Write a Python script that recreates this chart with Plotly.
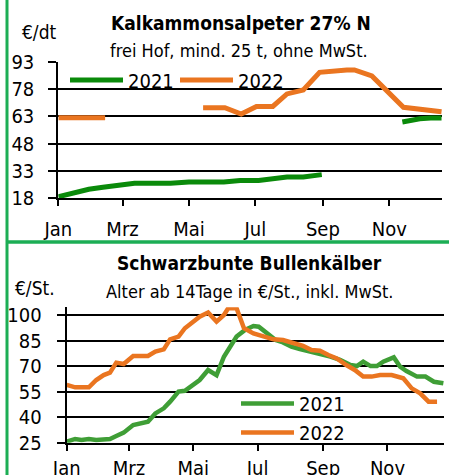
import plotly.graph_objects as go
from datetime import date, timedelta

# ---------------- data ----------------
# Top chart: Kalkammonsalpeter 27% N (€/dt), day-of-year offsets
kas_2021_a_day = [0, 12, 28, 41, 57, 70, 103, 120, 152, 167, 184, 210, 225, 242]
kas_2021_a_val = [18.7, 20.6, 22.8, 23.9, 25.0, 26.1, 26.1, 26.8, 26.8, 27.7, 27.7, 29.6, 29.6, 30.9]
kas_2021_b_day = [316, 332, 342, 352]
kas_2021_b_val = [59.9, 61.7, 62.1, 62.1]
kas_2022_a_day = [0, 43]
kas_2022_a_val = [62.3, 62.3]
kas_2022_b_day = [133, 153, 168, 182, 197, 210, 225, 240, 265, 272, 288, 301, 317, 352]
kas_2022_b_val = [67.8, 67.8, 64.3, 68.5, 68.5, 75.4, 77.6, 87.3, 88.6, 88.6, 85.3, 77.6, 68.0, 65.6]

# Bottom chart: Schwarzbunte Bullenkälber (€/St.)
bk_2021_day = [0, 8, 14, 21, 28, 35, 41, 47, 54, 63, 70, 77, 84, 92, 98, 106, 112, 120,
               126, 134, 142, 149, 155, 161, 169, 177, 182, 190, 198, 205, 213, 221, 231,
               240, 250, 259, 269, 275, 281, 288, 294, 300, 310, 316, 322, 332, 340, 348, 357]
bk_2021_val = [25.6, 27.2, 26.6, 27.2, 26.6, 27.2, 27.2, 28.9, 30.9, 35.4, 36.4, 37.3, 42.2,
               45.2, 49.1, 55.0, 55.5, 58.9, 61.8, 67.7, 64.7, 75.5, 81.4, 87.3, 91.2, 93.5,
               93.1, 89.2, 85.3, 83.9, 81.4, 80.0, 78.5, 77.1, 75.5, 73.6, 70.6, 70.0, 72.6,
               70.0, 70.0, 72.6, 75.1, 69.6, 67.1, 63.8, 63.8, 60.8, 59.9]
bk_2022_day = [0, 8, 21, 28, 35, 41, 47, 54, 63, 77, 84, 92, 98, 106, 112, 120, 126, 134,
               142, 149, 153, 161, 168, 177, 186, 196, 205, 215, 224, 232, 240, 248, 256,
               265, 273, 281, 289, 297, 308, 319, 327, 335, 343, 351]
bk_2022_val = [58.9, 57.5, 57.5, 61.8, 64.7, 66.1, 72.0, 71.2, 75.9, 75.9, 78.5, 79.8, 85.7,
               87.3, 92.2, 96.1, 99.0, 101.4, 96.1, 100.0, 103.9, 103.9, 92.2, 89.2, 87.3,
               85.7, 85.3, 83.4, 81.8, 79.4, 79.0, 76.5, 74.5, 70.6, 67.7, 63.8, 63.8, 64.7,
               64.7, 62.8, 56.9, 54.0, 49.1, 49.1]

month_ticks = ["Jan", "Mrz", "Mai", "Jul", "Sep", "Nov"]
month_tick_days = [0, 59, 120, 181, 243, 304]
kas_y_ticks = [18, 33, 48, 63, 78, 93]
bk_y_ticks = [25, 40, 55, 70, 85, 100]

# ---------------- helpers ----------------
BASE = date(2022, 1, 1)
def to_dates(days):
    return [(BASE + timedelta(days=d)).isoformat() for d in days]

FONT = "Liberation Sans Narrow, DejaVu Sans Condensed, Arial Narrow, sans-serif"
GREEN_DARK = "#0a8a0a"
GREEN = "#3f9e36"
ORANGE = "#ea7520"
BORDER = "#1cae55"
W, H = 449, 475

fig = go.Figure()

def add_line(x, y, color, name, xa, ya, legend, show, width):
    fig.add_trace(go.Scatter(x=to_dates(x), y=y, mode="lines", name=name,
                             line=dict(color=color, width=width),
                             xaxis=xa, yaxis=ya, legend=legend, showlegend=show,
                             legendgroup=legend + name, hoverinfo="skip"))

add_line(kas_2021_a_day, kas_2021_a_val, GREEN_DARK, "2021", "x", "y", "legend", True, 5)
add_line(kas_2021_b_day, kas_2021_b_val, GREEN_DARK, "2021", "x", "y", "legend", False, 5)
add_line(kas_2022_a_day, kas_2022_a_val, ORANGE, "2022", "x", "y", "legend", True, 5)
add_line(kas_2022_b_day, kas_2022_b_val, ORANGE, "2022", "x", "y", "legend", False, 5)
add_line(bk_2021_day, bk_2021_val, GREEN, "2021", "x2", "y2", "legend2", True, 4.5)
add_line(bk_2022_day, bk_2022_val, ORANGE, "2022", "x2", "y2", "legend2", True, 4.5)

def px_x(p): return p / W
def px_y(p): return 1 - p / H

axis_common = dict(showline=True, linecolor="black", linewidth=2, ticks="outside",
                   tickcolor="black", tickwidth=2, tickfont=dict(family=FONT, size=20, color="black"),
                   zeroline=False, automargin=False)

fig.update_layout(
    width=W, height=H, autosize=False,
    margin=dict(l=0, r=0, t=0, b=0, pad=0, autoexpand=False),
    paper_bgcolor="white", plot_bgcolor="white",
    font=dict(family=FONT, size=20, color="black"),
    xaxis=dict(domain=[px_x(58.3), px_x(442)], anchor="y", type="date",
               range=[to_dates([0])[0], "2022-12-19 10:00"],
               tickvals=to_dates(month_tick_days), ticktext=month_ticks,
               showgrid=False, ticklen=6, ticklabelstandoff=6, **axis_common),
    yaxis=dict(domain=[px_y(198), px_y(62)], anchor="x", range=[18, 93],
               tickvals=kas_y_ticks, showgrid=True, gridcolor="black", gridwidth=2,
               ticklen=8, ticklabelstandoff=10, **axis_common),
    xaxis2=dict(domain=[px_x(66.7), px_x(444)], anchor="y2", type="date",
                range=[to_dates([0])[0], "2022-12-24 14:00"],
                tickvals=to_dates(month_tick_days), ticktext=month_ticks,
                showgrid=False, ticklen=6, ticklabelstandoff=0, **axis_common),
    yaxis2=dict(domain=[px_y(442.7), px_y(307.3)], anchor="x2", range=[25, 104.5],
                tickvals=bk_y_ticks, showgrid=True, gridcolor="black", gridwidth=2,
                ticklen=8, ticklabelstandoff=11, **axis_common),
    legend=dict(orientation="h", x=px_x(65), y=px_y(80), xanchor="left", yanchor="middle",
                bgcolor="rgba(0,0,0,0)", font=dict(family=FONT, size=20),
                itemwidth=53, entrywidth=42, entrywidthmode="pixels", traceorder="normal"),
    legend2=dict(orientation="v", x=px_x(236), y=px_y(418), xanchor="left", yanchor="middle",
                 bgcolor="rgba(0,0,0,0)", font=dict(family=FONT, size=20),
                 itemwidth=53, traceorder="normal"),
    showlegend=True,
)

annots = [
    dict(text="<b>Kalkammonsalpeter 27% N</b>", x=px_x(241), y=px_y(23), size=19),
    dict(text="frei Hof, mind. 25 t, ohne MwSt.", x=px_x(239), y=px_y(50), size=18),
    dict(text="€/dt", x=px_x(39), y=px_y(32), size=19),
    dict(text="<b>Schwarzbunte Bullenkälber</b>", x=px_x(249), y=px_y(263), size=19),
    dict(text="Alter ab 14Tage in €/St., inkl. MwSt.", x=px_x(250), y=px_y(291), size=18),
    dict(text="€/St.", x=px_x(35), y=px_y(288), size=19),
]
for a in annots:
    fig.add_annotation(text=a["text"], x=a["x"], y=a["y"], xref="paper", yref="paper",
                       xanchor="center", yanchor="middle", showarrow=False,
                       font=dict(family=FONT, size=a["size"], color="black"))

# green frame: left edge and separator
fig.add_shape(type="line", xref="paper", yref="paper", x0=px_x(7), x1=px_x(7), y0=0, y1=1,
              line=dict(color=BORDER, width=3))
fig.add_shape(type="line", xref="paper", yref="paper", x0=px_x(6), x1=1, y0=px_y(242), y1=px_y(242),
              line=dict(color=BORDER, width=3.5))

fig.write_html("out.html", config={"displayModeBar": False, "staticPlot": True},
               post_script="document.body.style.margin='0';document.body.style.overflow='hidden';")
